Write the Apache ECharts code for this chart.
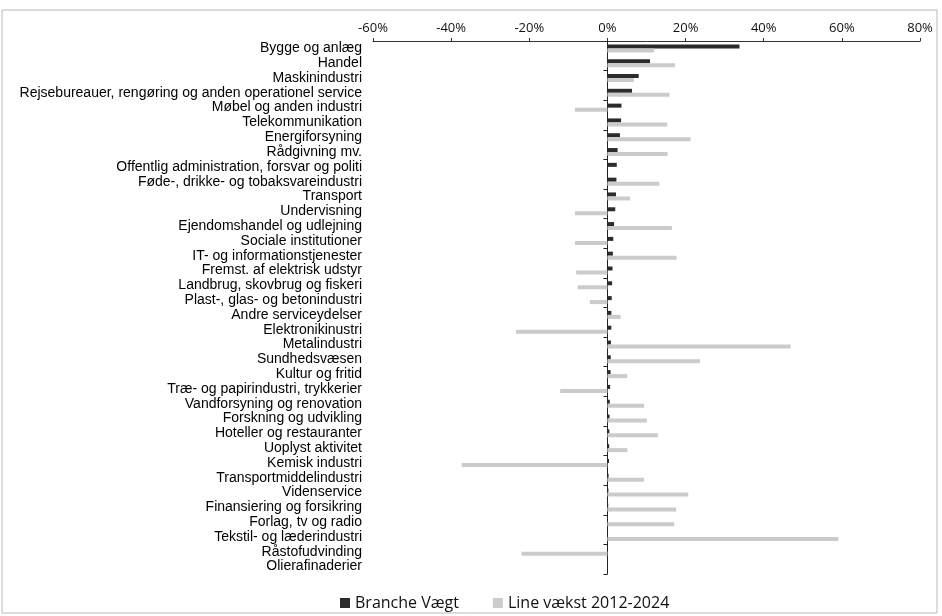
<!DOCTYPE html>
<html>
<head>
<meta charset="utf-8">
<script src="https://cdn.jsdelivr.net/npm/echarts@6/dist/echarts.min.js"></script>
<style>
html,body{margin:0;padding:0;background:#fff;}
#chart{width:942px;height:616px;}
</style>
</head>
<body>
<div id="chart"></div>
<script>
const categories = [
  "Bygge og anlæg",
  "Handel",
  "Maskinindustri",
  "Rejsebureauer, rengøring og anden operationel service",
  "Møbel og anden industri",
  "Telekommunikation",
  "Energiforsyning",
  "Rådgivning mv.",
  "Offentlig administration, forsvar og politi",
  "Føde-, drikke- og tobaksvareindustri",
  "Transport",
  "Undervisning",
  "Ejendomshandel og udlejning",
  "Sociale institutioner",
  "IT- og informationstjenester",
  "Fremst. af elektrisk udstyr",
  "Landbrug, skovbrug og fiskeri",
  "Plast-, glas- og betonindustri",
  "Andre serviceydelser",
  "Elektronikinustri",
  "Metalindustri",
  "Sundhedsvæsen",
  "Kultur og fritid",
  "Træ- og papirindustri, trykkerier",
  "Vandforsyning og renovation",
  "Forskning og udvikling",
  "Hoteller og restauranter",
  "Uoplyst aktivitet",
  "Kemisk industri",
  "Transportmiddelindustri",
  "Videnservice",
  "Finansiering og forsikring",
  "Forlag, tv og radio",
  "Tekstil- og læderindustri",
  "Råstofudvinding",
  "Olierafinaderier"
];

// Branche Vægt (%)
const brancheVaegt = [
  33.8, 10.9, 8.0, 6.3, 3.6, 3.5, 3.2, 2.6, 2.4, 2.3,
  2.2, 2.0, 1.7, 1.5, 1.4, 1.3, 1.2, 1.1, 1.0, 1.0,
  0.9, 0.85, 0.8, 0.7, 0.6, 0.55, 0.5, 0.45, 0.4, 0.3,
  0.25, 0.2, 0.15, 0.1, 0.08, 0.03
];

// Line vækst 2012-2024 (%)
const lineVaekst = [
  11.9, 17.3, 6.8, 15.9, -8.3, 15.3, 21.3, 15.4, 0, 13.3,
  5.8, -8.3, 16.5, -8.3, 17.7, -8.0, -7.6, -4.5, 3.4, -23.4,
  46.9, 23.7, 5.1, -12.1, 9.4, 10.1, 12.9, 5.1, -37.3, 9.4,
  20.7, 17.6, 17.1, 59.1, -22.0, 0
];

const xTicks = { min: -60, max: 80, interval: 20 };

const chart = echarts.init(document.getElementById('chart'), null, { renderer: 'canvas' });

chart.setOption({
  backgroundColor: '#ffffff',
  animation: false,
  graphic: [{
    type: 'rect',
    shape: { x: 2, y: 10, width: 935, height: 603 },
    style: { fill: 'none', stroke: '#b8b8b8', lineWidth: 1 },
    silent: true
  }],
  legend: {
    left: 335,
    top: 590,
    itemWidth: 10,
    itemHeight: 10,
    itemGap: 34,
    icon: 'rect',
    textStyle: { fontFamily: 'Open Sans', fontSize: 16, color: '#111' },
    data: ['Branche Vægt', 'Line vækst 2012-2024']
  },
  grid: { left: 373, right: 22, top: 41, height: 533, containLabel: false },
  xAxis: {
    type: 'value',
    position: 'top',
    min: xTicks.min,
    max: xTicks.max,
    interval: xTicks.interval,
    axisLine: { show: true, lineStyle: { color: '#333', width: 1 } },
    axisTick: { show: true, length: 3, lineStyle: { color: '#333' } },
    splitLine: { show: false },
    axisLabel: {
      formatter: '{value}%',
      margin: 6,
      fontFamily: 'Open Sans',
      fontSize: 13,
      color: '#111'
    }
  },
  yAxis: [
    {
      type: 'category',
      data: categories,
      inverse: true,
      position: 'left',
      axisLine: { show: false, onZero: false },
      axisTick: { show: false },
      splitLine: { show: false },
      axisLabel: {
        margin: 11,
        fontFamily: 'Liberation Sans',
        fontSize: 14,
        color: '#000',
        interval: 0
      }
    },
    {
      type: 'category',
      data: categories,
      inverse: true,
      position: 'left',
      axisLine: { show: true, onZero: true, lineStyle: { color: '#222', width: 1 } },
      axisTick: { show: true, length: 4, lineStyle: { color: '#222' } },
      axisLabel: { show: false },
      splitLine: { show: false }
    }
  ],
  series: [
    {
      name: 'Branche Vægt',
      type: 'bar',
      yAxisIndex: 0,
      data: brancheVaegt,
      barWidth: 4,
      barGap: '0%',
      itemStyle: { color: '#2b2b2b' }
    },
    {
      name: 'Line vækst 2012-2024',
      type: 'bar',
      yAxisIndex: 0,
      data: lineVaekst,
      barWidth: 4,
      barGap: '0%',
      itemStyle: { color: '#cbcbcb' }
    }
  ]
});
</script>
</body>
</html>
